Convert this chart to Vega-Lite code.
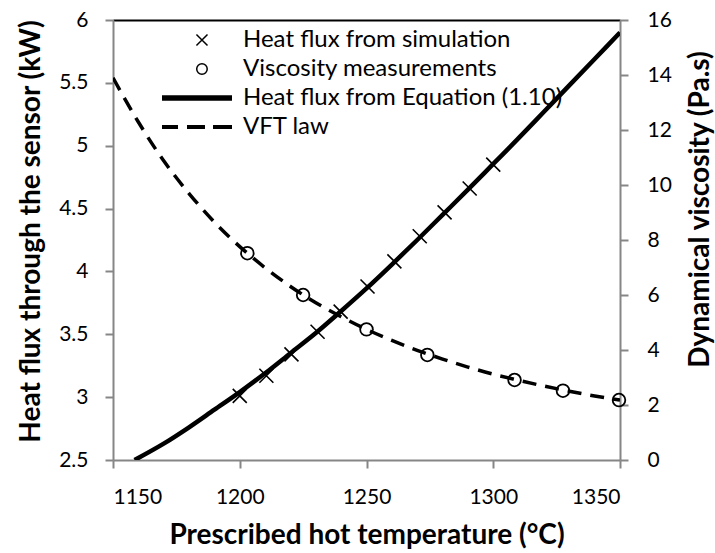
{
  "$schema": "https://vega.github.io/schema/vega-lite/v6.json",
  "width": 507,
  "height": 440,
  "autosize": {"type": "none"},
  "padding": {"left": 113, "top": 20, "right": 95, "bottom": 93},
  "background": "white",
  "config": {
    "font": "Lato",
    "view": {"stroke": null},
    "axis": {
      "grid": false,
      "labelColor": "black",
      "labelFontSize": 21,
      "domainColor": "#868686",
      "domainWidth": 2,
      "tickColor": "#868686",
      "tickWidth": 2,
      "tickSize": 8,
      "titleColor": "black",
      "titleFontSize": 28,
      "titleFontWeight": "bold"
    }
  },
  "datasets": {
    "sim": [
      {"T": 1200, "flux": 3.01},
      {"T": 1210.5, "flux": 3.17},
      {"T": 1220.4, "flux": 3.34},
      {"T": 1230.7, "flux": 3.52},
      {"T": 1239.8, "flux": 3.68},
      {"T": 1250.4, "flux": 3.88},
      {"T": 1261, "flux": 4.08},
      {"T": 1271, "flux": 4.28},
      {"T": 1280.8, "flux": 4.47},
      {"T": 1290.7, "flux": 4.66},
      {"T": 1300, "flux": 4.85}
    ],
    "eq": [
      {"T": 1158.5, "flux": 2.5},
      {"T": 1170, "flux": 2.63},
      {"T": 1180, "flux": 2.76},
      {"T": 1190, "flux": 2.9},
      {"T": 1200, "flux": 3.04},
      {"T": 1210, "flux": 3.19},
      {"T": 1220, "flux": 3.35},
      {"T": 1230, "flux": 3.51},
      {"T": 1240, "flux": 3.685},
      {"T": 1250, "flux": 3.865},
      {"T": 1260, "flux": 4.055},
      {"T": 1270, "flux": 4.25},
      {"T": 1280, "flux": 4.45},
      {"T": 1290, "flux": 4.65},
      {"T": 1300, "flux": 4.855},
      {"T": 1310, "flux": 5.06},
      {"T": 1320, "flux": 5.27},
      {"T": 1330, "flux": 5.48},
      {"T": 1340, "flux": 5.69},
      {"T": 1350, "flux": 5.9}
    ],
    "visc": [
      {"T": 1203, "eta": 7.52},
      {"T": 1225, "eta": 6.0},
      {"T": 1250, "eta": 4.75},
      {"T": 1274, "eta": 3.82},
      {"T": 1308.4, "eta": 2.91},
      {"T": 1327.5, "eta": 2.52},
      {"T": 1349.6, "eta": 2.18}
    ],
    "vft": [
      {"T": 1150, "eta": 13.9},
      {"T": 1160, "eta": 12.29},
      {"T": 1170, "eta": 10.88},
      {"T": 1180, "eta": 9.69},
      {"T": 1190, "eta": 8.65},
      {"T": 1200, "eta": 7.76},
      {"T": 1210, "eta": 6.99},
      {"T": 1220, "eta": 6.31},
      {"T": 1230, "eta": 5.72},
      {"T": 1240, "eta": 5.21},
      {"T": 1250, "eta": 4.75},
      {"T": 1260, "eta": 4.35},
      {"T": 1270, "eta": 3.99},
      {"T": 1280, "eta": 3.67},
      {"T": 1290, "eta": 3.38},
      {"T": 1300, "eta": 3.12},
      {"T": 1310, "eta": 2.9},
      {"T": 1320, "eta": 2.69},
      {"T": 1330, "eta": 2.5},
      {"T": 1340, "eta": 2.33},
      {"T": 1350, "eta": 2.18}
    ],
    "legendItems": [
      {"series": "Heat flux from simulation"},
      {"series": "Viscosity measurements"},
      {"series": "Heat flux from Equation (1.10)"},
      {"series": "VFT law"}
    ]
  },
  "layer": [
    {
      "encoding": {
        "x": {
          "field": "T",
          "type": "quantitative",
          "scale": {"domain": [1150, 1350], "nice": false, "zero": false},
          "axis": {
            "orient": "bottom",
            "title": "Prescribed hot temperature (°C)",
            "values": [1150, 1200, 1250, 1300, 1350],
            "format": "d",
            "labelPadding": 18,
            "titleX": 253.5,
            "titleY": 83,
            "titleAlign": "center",
            "titleBaseline": "alphabetic"
          }
        },
        "y": {
          "field": "flux",
          "type": "quantitative",
          "scale": {"domain": [2.5, 6], "nice": false, "zero": false},
          "axis": {
            "orient": "left",
            "title": "Heat flux through the sensor (kW)",
            "values": [2.5, 3, 3.5, 4, 4.5, 5, 5.5, 6],
            "labelExpr": "'' + datum.value",
            "labelPadding": 17,
            "titleAngle": 270,
            "titleX": -74,
            "titleY": 211,
            "titleAlign": "center",
            "titleBaseline": "alphabetic"
          }
        }
      },
      "layer": [
        {
          "data": {"name": "eq"},
          "mark": {"type": "line", "color": "black", "strokeWidth": 4.5, "clip": true, "interpolate": "monotone"}
        },
        {
          "data": {"name": "sim"},
          "mark": {
            "type": "point",
            "shape": "M-1,-1L1,1M-1,1L1,-1",
            "size": 196,
            "filled": false,
            "color": "black",
            "strokeWidth": 1.6,
            "opacity": 1
          }
        },
        {
          "data": {"name": "legendItems"},
          "transform": [{"filter": "false"}],
          "mark": {"type": "point", "filled": false, "color": "black"},
          "encoding": {
            "shape": {
              "field": "series",
              "type": "nominal",
              "scale": {
                "domain": ["Heat flux from simulation", "Viscosity measurements", "Heat flux from Equation (1.10)", "VFT law"],
                "range": [
                  "M-4.08,-0.79L-2.5,0.79M-4.08,0.79L-2.5,-0.79",
                  "M-4.04,0A0.75,0.75,0,1,0,-2.54,0A0.75,0.75,0,1,0,-4.04,0",
                  "M-9,-0.27L1,-0.27M-9,-0.09L1,-0.09M-9,0.09L1,0.09M-9,0.27L1,0.27",
                  "M-9,-0.18L-6.71,-0.18M-9,0L-6.71,0M-9,0.18L-6.71,0.18M-5.43,-0.18L-2.86,-0.18M-5.43,0L-2.86,0M-5.43,0.18L-2.86,0.18M-1.71,-0.18L1,-0.18M-1.71,0L1,0M-1.71,0.18L1,0.18"
                ]
              },
              "legend": {
                "orient": "none",
                "legendX": 100,
                "legendY": 8,
                "title": null,
                "padding": 0,
                "symbolSize": 196,
                "symbolStrokeWidth": 1.5,
                "symbolStrokeColor": "black",
                "symbolFillColor": "transparent",
                "symbolOpacity": 1,
                "labelFontSize": 24,
                "labelColor": "black",
                "labelOffset": 6,
                "labelLimit": 0,
                "rowPadding": 5
              }
            }
          }
        }
      ]
    },
    {
      "encoding": {
        "x": {
          "field": "T",
          "type": "quantitative",
          "scale": {"domain": [1150, 1350], "nice": false, "zero": false},
          "axis": {
            "orient": "top",
            "title": null,
            "labels": false,
            "ticks": false,
            "domainColor": "black",
            "domainWidth": 2
          }
        },
        "y": {
          "field": "eta",
          "type": "quantitative",
          "scale": {"domain": [0, 16], "nice": false},
          "axis": {
            "orient": "right",
            "title": "Dynamical viscosity (Pa.s)",
            "values": [0, 2, 4, 6, 8, 10, 12, 14, 16],
            "labelPadding": 19,
            "titleAngle": 270,
            "titleX": 88,
            "titleY": 189,
            "titleAlign": "center",
            "titleBaseline": "alphabetic"
          }
        }
      },
      "layer": [
        {
          "data": {"name": "vft"},
          "mark": {"type": "line", "color": "black", "strokeWidth": 3.5, "strokeDash": [14, 9], "clip": true, "interpolate": "monotone"}
        },
        {
          "data": {"name": "visc"},
          "mark": {
            "type": "point",
            "shape": "circle",
            "size": 160,
            "filled": false,
            "color": "black",
            "strokeWidth": 1.8,
            "opacity": 1
          }
        }
      ]
    }
  ],
  "resolve": {"scale": {"y": "independent"}, "axis": {"x": "independent"}}
}
